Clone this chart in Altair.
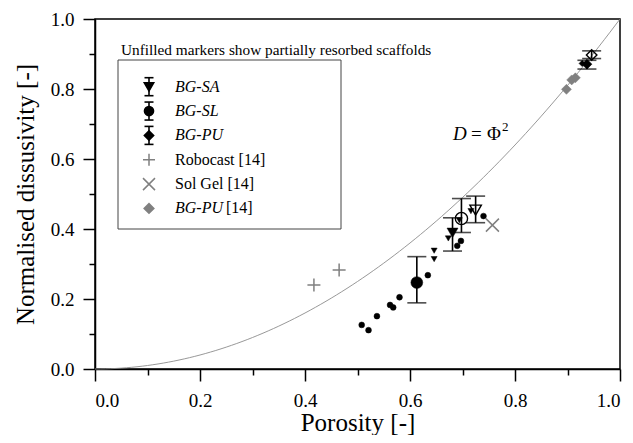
import altair as alt
import pandas as pd

# ---------------- data ----------------
# mean values of each scaffold type (filled markers, with error bars)
mean_series = ["BG-SA", "BG-SL", "BG-PU"]
mean_x = [0.681, 0.613, 0.937]
mean_y = [0.389, 0.247, 0.871]
mean_lo = [0.337, 0.189, 0.857]
mean_hi = [0.432, 0.321, 0.882]

# partially resorbed scaffolds (unfilled markers, with error bars)
res_x = [0.725, 0.698, 0.946]
res_y = [0.454, 0.430, 0.897]
res_lo = [0.418, 0.390, 0.887]
res_hi = [0.494, 0.487, 0.909]

# individual samples (small markers)
sa_x = [0.646, 0.646, 0.673, 0.694, 0.716]
sa_y = [0.338, 0.314, 0.373, 0.425, 0.451]
sl_x = [0.508, 0.521, 0.537, 0.562, 0.568, 0.580, 0.634, 0.690, 0.697, 0.740]
sl_y = [0.126, 0.111, 0.151, 0.183, 0.176, 0.205, 0.268, 0.352, 0.366, 0.437]
pu_x = [0.928]
pu_y = [0.873]

# literature data [14]
robo_x = [0.417, 0.465]
robo_y = [0.240, 0.283]
solgel_x = [0.757]
solgel_y = [0.411]
pu14_x = [0.898, 0.908, 0.915]
pu14_y = [0.799, 0.826, 0.832]

ticks = [round(0.1 * i, 1) for i in range(11)]

# ---------------- styling ----------------
FONT = "Liberation Serif"
BLACK = "#000000"
GRAY = "#808080"
PLUS = "M-1,0L1,0M0,-1L0,1"
XSHAPE = "M-1,-1L1,1M-1,1L1,-1"
shape_of = {"BG-SA": "triangle-down", "BG-SL": "circle", "BG-PU": "diamond"}
big_size = {"BG-SA": 121, "BG-SL": 140, "BG-PU": 100}

tick_cond = {"condition": {"test": "round(datum.value*10) % 2 == 0", "value": 12}, "value": 6}
label_expr = "round(datum.value*10) % 2 == 0 ? format(datum.value, '.1f') : ''"

x_axis = alt.Axis(values=ticks, labelExpr=label_expr, tickSize=tick_cond, grid=False,
                  labelPadding=10, titleY=61, titleBaseline="alphabetic")
y_axis = alt.Axis(values=ticks, labelExpr=label_expr, tickSize=tick_cond, grid=False,
                  labelPadding=9, titlePadding=12)
xscale = alt.Scale(domain=[0, 1], nice=False, zero=False)
yscale = alt.Scale(domain=[0, 1], nice=False, zero=False)


def X(field="x"):
    return alt.X(f"{field}:Q", scale=xscale, axis=x_axis, title="Porosity [-]")


def Y(field="y"):
    return alt.Y(f"{field}:Q", scale=yscale, axis=y_axis, title="Normalised dissusivity [-]")


def points(xs, ys, shape, size, color=BLACK, filled=True, sw=1.2):
    df = pd.DataFrame({"x": xs, "y": ys})
    if filled:
        m = alt.Chart(df).mark_point(shape=shape, size=size, filled=True, fill=color,
                                     stroke=color, strokeWidth=0.5, opacity=1)
    else:
        m = alt.Chart(df).mark_point(shape=shape, size=size, filled=False, stroke=color,
                                     strokeWidth=sw, opacity=1)
    return m.encode(x=X(), y=Y())


def errorbars(xs, lo, hi):
    df = pd.DataFrame({"x": xs, "lo": lo, "hi": hi})
    base = alt.Chart(df)
    rule = base.mark_rule(color=BLACK, strokeWidth=1.6).encode(x=X(), y=Y("lo"), y2="hi:Q")
    c1 = base.mark_tick(orient="horizontal", size=19, thickness=1.6, color=BLACK).encode(x=X(), y=Y("lo"))
    c2 = base.mark_tick(orient="horizontal", size=19, thickness=1.6, color=BLACK).encode(x=X(), y=Y("hi"))
    return [rule, c1, c2]


layers = []

# theoretical curve D = phi^2
curve = (
    alt.Chart(alt.sequence(0, 1.0001, 0.01, as_="x"))
    .transform_calculate(y="datum.x * datum.x")
    .mark_line(color="#8c8c8c", strokeWidth=0.9)
    .encode(x=X(), y=Y())
)
layers.append(curve)

# literature data
layers.append(points(robo_x, robo_y, PLUS, 169, GRAY, filled=False, sw=1.5))
layers.append(points(solgel_x, solgel_y, XSHAPE, 169, GRAY, filled=False, sw=1.5))
layers.append(points(pu14_x, pu14_y, "diamond", 100, GRAY, filled=True))

# individual samples
layers.append(points(sl_x, sl_y, "circle", 34))
layers.append(points(sa_x, sa_y, "triangle-down", 36))
layers.append(points(pu_x, pu_y, "diamond", 40))

# error bars and mean markers
layers += errorbars(mean_x, mean_lo, mean_hi)
layers += errorbars(res_x, res_lo, res_hi)
for i, s in enumerate(mean_series):
    layers.append(points([mean_x[i]], [mean_y[i]], shape_of[s], big_size[s]))
    layers.append(points([res_x[i]], [res_y[i]], shape_of[s], big_size[s] + 10, filled=False, sw=1.4))

# ---------------- annotations & legend (pixel positions inside plot) ----------------
one = pd.DataFrame({"k": [0]})


def txt(x, y, text, size=16, style="normal", align="left", color=BLACK):
    return alt.Chart(one).mark_text(
        text=text, align=align, baseline="middle", font=FONT, fontSize=size,
        fontStyle=style, color=color
    ).encode(x=alt.value(x), y=alt.value(y))


layers.append(txt(26, 31, "Unfilled markers show partially resorbed scaffolds", 15.3))
layers.append(txt(358, 115, "D", 19, "italic"))
layers.append(txt(376, 115, "=", 19))
layers.append(txt(392, 115, "Φ", 19))
layers.append(txt(407, 108, "2", 13))

# legend frame
layers.append(
    alt.Chart(one).mark_rect(fill="white", stroke="#444444", strokeWidth=1)
    .encode(x=alt.value(23), x2=alt.value(246), y=alt.value(41), y2=alt.value(210))
)

leg_x, leg_tx = 54, 80
rows = [67.7 + 24.35 * i for i in range(6)]

for i, s in enumerate(mean_series):
    yy = rows[i]
    layers.append(alt.Chart(one).mark_rule(color=BLACK, strokeWidth=1.6).encode(
        x=alt.value(leg_x), y=alt.value(yy - 9), y2=alt.value(yy + 9)))
    for dy in (-9, 9):
        layers.append(alt.Chart(one).mark_rule(color=BLACK, strokeWidth=1.6).encode(
            x=alt.value(leg_x - 4.5), x2=alt.value(leg_x + 4.5), y=alt.value(yy + dy)))
    layers.append(alt.Chart(one).mark_point(shape=shape_of[s], size=75, filled=True, fill=BLACK,
                                            stroke=BLACK, opacity=1).encode(
        x=alt.value(leg_x), y=alt.value(yy)))
    layers.append(txt(leg_tx, yy, s, 16, "italic"))

layers.append(alt.Chart(one).mark_point(shape=PLUS, size=144, filled=False, stroke=GRAY,
                                        strokeWidth=1.5, opacity=1).encode(
    x=alt.value(leg_x), y=alt.value(rows[3])))
layers.append(txt(leg_tx, rows[3], "Robocast [14]", 16))
layers.append(alt.Chart(one).mark_point(shape=XSHAPE, size=144, filled=False, stroke=GRAY,
                                        strokeWidth=1.5, opacity=1).encode(
    x=alt.value(leg_x), y=alt.value(rows[4])))
layers.append(txt(leg_tx, rows[4], "Sol Gel [14]", 16))
layers.append(alt.Chart(one).mark_point(shape="diamond", size=81, filled=True, fill=GRAY,
                                        stroke=GRAY, opacity=1).encode(
    x=alt.value(leg_x), y=alt.value(rows[5])))
layers.append(txt(leg_tx, rows[5], "BG-PU", 16, "italic"))
layers.append(txt(leg_tx + 51, rows[5], "[14]", 16))

chart = (
    alt.layer(*layers)
    .properties(
        width=525, height=350,
        autosize=alt.AutoSizeParams(type="none"),
        padding={"left": 87, "top": 11, "right": 5, "bottom": 66},
    )
    .configure_view(stroke=BLACK, strokeWidth=1.5)
    .configure_axis(
        domainColor=BLACK, domainWidth=1.5, tickColor=BLACK, tickWidth=1.5,
        labelFont=FONT, labelFontSize=19, labelColor=BLACK,
        titleFont=FONT, titleFontSize=25, titleFontWeight="normal", titleColor=BLACK,
    )
)

chart.save("out.html", embed_options={"renderer": "svg", "actions": False})
